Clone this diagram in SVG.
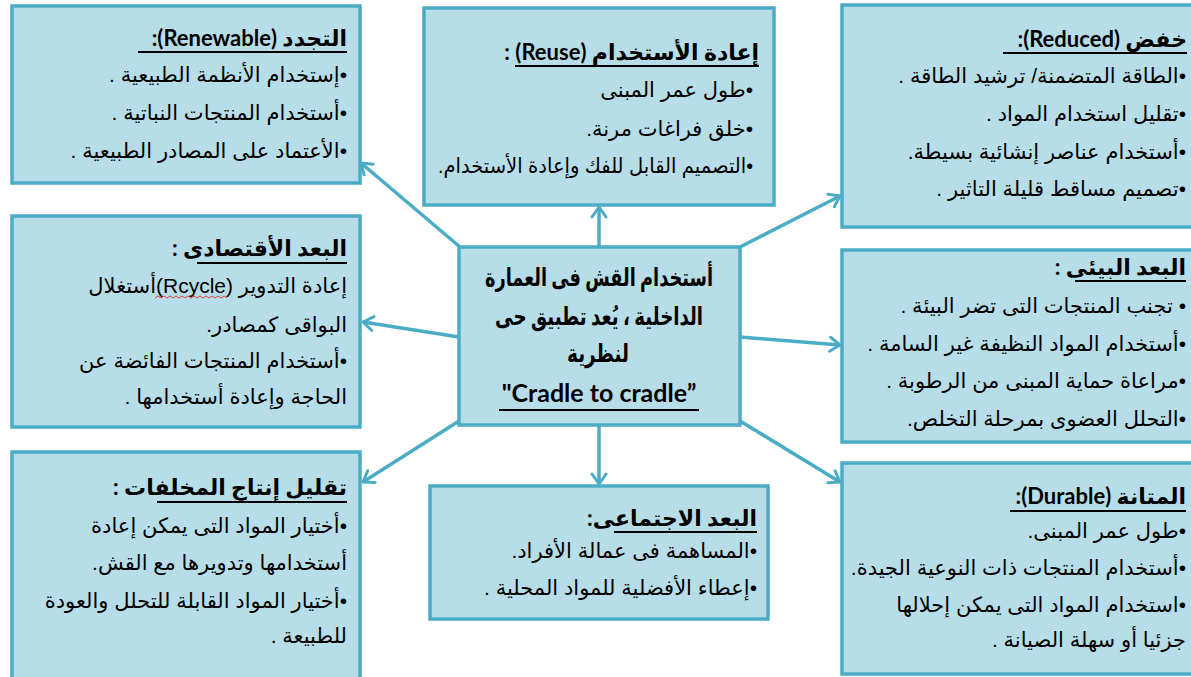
<svg xmlns="http://www.w3.org/2000/svg" width="1191" height="677" viewBox="0 0 1191 677">
  <style>
    .box { fill: #b7dde8; stroke: #4bacc6; stroke-width: 3.5; }
    .link { stroke: #4bacc6; stroke-width: 3.5; fill: none; marker-end: url(#chev); }
    .t { font-family: "Liberation Sans", "DejaVu Sans", sans-serif; font-size: 21px; fill: #000; direction: rtl; text-anchor: start; }
    .h { font-family: "Lato", "DejaVu Sans", sans-serif; font-weight: bold; font-size: 22px; fill: #000; direction: rtl; text-anchor: start; }
    .c { font-family: "Lato", "DejaVu Sans", sans-serif; font-weight: bold; font-size: 25px; fill: #000; direction: rtl; text-anchor: middle; }
    .ul { stroke: #000; stroke-width: 2; }
  </style>
  <defs>
    <marker id="chev" viewBox="0 0 14 18" refX="12" refY="9" markerWidth="14" markerHeight="18" markerUnits="userSpaceOnUse" orient="auto">
      <path d="M2,2 L12,9 L2,16" fill="none" stroke="#4bacc6" stroke-width="3" stroke-linecap="round" stroke-linejoin="round"/>
    </marker>
  </defs>
  <rect x="0" y="0" width="1191" height="677" fill="#ffffff"/>

  <!-- connectors from the central box -->
  <g id="connectors">
    <line class="link" x1="460" y1="247" x2="361" y2="163"/>
    <line class="link" x1="599" y1="247" x2="599" y2="207"/>
    <line class="link" x1="740" y1="247" x2="840" y2="196"/>
    <line class="link" x1="459" y1="337" x2="363" y2="322"/>
    <line class="link" x1="740" y1="337" x2="840" y2="345"/>
    <line class="link" x1="459" y1="421" x2="363" y2="482"/>
    <line class="link" x1="599" y1="425" x2="599" y2="484"/>
    <line class="link" x1="740" y1="421" x2="840" y2="482"/>
  </g>

  <!-- Renewable -->
  <g id="renewable">
    <rect class="box" x="12" y="6" width="348" height="177"/>
    <text class="h" x="347" y="46">التجدد (Renewable):</text>
    <line class="ul" x1="138" y1="52" x2="347" y2="52"/>
    <text class="t" x="347" y="82">•إستخدام الأنظمة الطبيعية .</text>
    <text class="t" x="347" y="120">•أستخدام المنتجات النباتية .</text>
    <text class="t" x="347" y="158">•الأعتماد على المصادر الطبيعية .</text>
  </g>

  <!-- Reuse -->
  <g id="reuse">
    <rect class="box" x="424" y="8" width="350" height="197"/>
    <text class="h" x="759" y="60">إعادة  الأستخدام (Reuse) :</text>
    <line class="ul" x1="515" y1="66" x2="759" y2="66"/>
    <text class="t" x="753" y="97">•طول عمر المبنى</text>
    <text class="t" x="753" y="136">•خلق فراغات مرنة.</text>
    <text class="t" x="753" y="173" textLength="315" lengthAdjust="spacingAndGlyphs">•التصميم القابل للفك وإعادة الأستخدام.</text>
  </g>

  <!-- Reduced -->
  <g id="reduced">
    <rect class="box" x="842" y="5" width="355" height="222"/>
    <text class="h" x="1187" y="47">خفض (Reduced):</text>
    <line class="ul" x1="1003" y1="53" x2="1187" y2="53"/>
    <text class="t" x="1186" y="83">•الطاقة المتضمنة/ ترشيد الطاقة .</text>
    <text class="t" x="1186" y="121">•تقليل استخدام المواد .</text>
    <text class="t" x="1186" y="159">•أستخدام عناصر إنشائية بسيطة.</text>
    <text class="t" x="1186" y="196">•تصميم مساقط قليلة التاثير .</text>
  </g>

  <!-- Economic dimension -->
  <g id="economic">
    <rect class="box" x="12" y="216" width="348" height="211"/>
    <text class="h" x="347" y="256">البعد الأقتصادى :</text>
    <line class="ul" x1="197" y1="263" x2="347" y2="263"/>
    <text class="t" x="347" y="293">إعادة التدوير (Rcycle)أستغلال</text>
    <path d="M155,298 l3,-2 l3,2 l3,-2 l3,2 l3,-2 l3,2 l3,-2 l3,2 l3,-2 l3,2 l3,-2 l3,2 l3,-2 l3,2 l3,-2 l3,2 l3,-2 l3,2 l3,-2 l3,2 l3,-2 l3,2 l3,-2 l3,2" fill="none" stroke="#e03030" stroke-width="0.9"/>
    <text class="t" x="347" y="332">البواقى كمصادر.</text>
    <text class="t" x="347" y="368">•أستخدام المنتجات الفائضة عن</text>
    <text class="t" x="347" y="404">الحاجة وإعادة أستخدامها .</text>
  </g>

  <!-- Central box -->
  <g id="center">
    <rect class="box" x="459" y="247" width="281" height="178"/>
    <text class="c" x="599" y="286" textLength="228" lengthAdjust="spacingAndGlyphs">أستخدام القش  فى العمارة</text>
    <text class="c" x="599" y="325" textLength="208" lengthAdjust="spacingAndGlyphs">الداخلية ، يُعد تطبيق حى</text>
    <text class="c" x="598" y="362" textLength="62" lengthAdjust="spacingAndGlyphs">لنظرية</text>
    <text class="c" x="599" y="402" style="direction:ltr">"Cradle to cradle”</text>
    <line class="ul" x1="499" y1="410" x2="699" y2="410"/>
  </g>

  <!-- Environmental dimension -->
  <g id="environmental">
    <rect class="box" x="842" y="250" width="355" height="192"/>
    <text class="h" x="1186" y="275">البعد البيئى :</text>
    <line class="ul" x1="1075" y1="281" x2="1186" y2="281"/>
    <text class="t" x="1186" y="313">• تجنب المنتجات التى تضر البيئة .</text>
    <text class="t" x="1186" y="351">•أستخدام المواد النظيفة غير السامة .</text>
    <text class="t" x="1186" y="388">•مراعاة حماية المبنى من الرطوبة .</text>
    <text class="t" x="1186" y="426">•التحلل العضوى بمرحلة التخلص.</text>
  </g>

  <!-- Waste reduction -->
  <g id="waste">
    <rect class="box" x="12" y="452" width="348" height="232"/>
    <text class="h" x="347" y="495">تقليل إنتاج المخلفات :</text>
    <line class="ul" x1="157" y1="502" x2="347" y2="502"/>
    <text class="t" x="347" y="533">•أختيار المواد التى يمكن إعادة</text>
    <text class="t" x="347" y="570">أستخدامها وتدويرها مع القش.</text>
    <text class="t" x="347" y="608">•أختيار المواد القابلة للتحلل والعودة</text>
    <text class="t" x="347" y="643">للطبيعة .</text>
  </g>

  <!-- Social dimension -->
  <g id="social">
    <rect class="box" x="430" y="486" width="338" height="133"/>
    <text class="h" x="757" y="526">البعد الاجتماعى:</text>
    <line class="ul" x1="614" y1="532" x2="757" y2="532"/>
    <text class="t" x="757" y="558">•المساهمة فى عمالة الأفراد.</text>
    <text class="t" x="757" y="595">•إعطاء الأفضلية للمواد المحلية .</text>
  </g>

  <!-- Durable -->
  <g id="durable">
    <rect class="box" x="842" y="463" width="355" height="211"/>
    <text class="h" x="1186" y="504">المتانة (Durable):</text>
    <line class="ul" x1="1010" y1="511" x2="1186" y2="511"/>
    <text class="t" x="1186" y="538">•طول عمر المبنى.</text>
    <text class="t" x="1186" y="575">•أستخدام المنتجات ذات النوعية الجيدة.</text>
    <text class="t" x="1186" y="612">•استخدام المواد التى يمكن إحلالها</text>
    <text class="t" x="1186" y="647">جزئيا أو سهلة الصيانة .</text>
  </g>
</svg>
